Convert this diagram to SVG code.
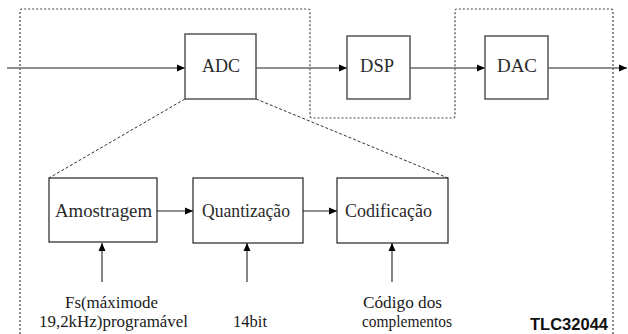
<svg xmlns="http://www.w3.org/2000/svg" width="628" height="334" viewBox="0 0 628 334">
  <style>
    .blk { fill: #ffffff; stroke: #555555; stroke-width: 1.5; }
    .sub { fill: #ffffff; stroke: #222222; stroke-width: 1.2; }
    text.lbl { font-family: "Liberation Serif", "DejaVu Serif", "Times New Roman", serif; font-size: 18px; fill: #2a2a2a; text-anchor: middle; }
    text.note { font-family: "Liberation Serif", "DejaVu Serif", "Times New Roman", serif; font-size: 17px; fill: #1a1a1a; text-anchor: middle; }
    text.chip { font-family: "Liberation Sans", "DejaVu Sans", Arial, sans-serif; font-size: 16px; font-weight: bold; fill: #111111; }
    .main { stroke: #6a6a6a; stroke-width: 1.7; fill: none; }
    .link { stroke: #222222; stroke-width: 1.1; fill: none; }
    .zoom { stroke: #333333; stroke-width: 1; stroke-dasharray: 3 2; fill: none; }
    .bound { stroke: #444444; stroke-width: 1.2; stroke-dasharray: 2 2; fill: none; }
  </style>
  <defs>
    <marker id="arrow" markerUnits="userSpaceOnUse" markerWidth="9" markerHeight="8" refX="8" refY="4" orient="auto">
      <path d="M0,0.5 L8,4 L0,7.5 Z" fill="#000000"/>
    </marker>
  </defs>

  <!-- chip boundaries -->
  <path class="bound" d="M20,334 V11 Q20,9 22,9 H308 Q310,9 310,11 V116 Q310,118 312,118 H453 Q455,118 455,116 V11 Q455,9 457,9 H611 Q613,9 613,11 V334"/>

  <g id="connectors">
    <line class="main" x1="7" y1="68" x2="185" y2="68" marker-end="url(#arrow)"/>
    <line class="main" x1="256" y1="68" x2="347" y2="68" marker-end="url(#arrow)"/>
    <line class="main" x1="410" y1="68" x2="485" y2="68" marker-end="url(#arrow)"/>
    <line class="main" x1="548" y1="68" x2="627" y2="68" marker-end="url(#arrow)"/>
    <line class="zoom" x1="185" y1="99" x2="49" y2="178"/>
    <line class="zoom" x1="256" y1="99" x2="448" y2="178"/>
    <line class="link" x1="157" y1="211" x2="193" y2="211" marker-end="url(#arrow)"/>
    <line class="link" x1="303" y1="211" x2="337" y2="211" marker-end="url(#arrow)"/>
    <line class="link" x1="102" y1="282" x2="102" y2="243" marker-end="url(#arrow)"/>
    <line class="link" x1="247" y1="282" x2="247" y2="243" marker-end="url(#arrow)"/>
    <line class="link" x1="392" y1="282" x2="392" y2="243" marker-end="url(#arrow)"/>
  </g>

  <g id="adc">
    <rect class="blk" x="185" y="34" width="71" height="65"/>
    <text class="lbl" x="221" y="72" textLength="38" lengthAdjust="spacingAndGlyphs">ADC</text>
  </g>
  <g id="dsp">
    <rect class="blk" x="347" y="36" width="63" height="63"/>
    <text class="lbl" x="377" y="72" textLength="34" lengthAdjust="spacingAndGlyphs">DSP</text>
  </g>
  <g id="dac">
    <rect class="blk" x="485" y="36" width="63" height="63"/>
    <text class="lbl" x="517" y="72" textLength="40" lengthAdjust="spacingAndGlyphs">DAC</text>
  </g>

  <g id="amostragem">
    <rect class="sub" x="49" y="178" width="108" height="64"/>
    <text class="lbl" x="103.5" y="217" textLength="97" lengthAdjust="spacingAndGlyphs">Amostragem</text>
  </g>
  <g id="quantizacao">
    <rect class="sub" x="193" y="178" width="110" height="65"/>
    <text class="lbl" x="246" y="217" textLength="88" lengthAdjust="spacingAndGlyphs">Quantização</text>
  </g>
  <g id="codificacao">
    <rect class="sub" x="337" y="178" width="111" height="65"/>
    <text class="lbl" x="388.5" y="217" textLength="87" lengthAdjust="spacingAndGlyphs">Codificação</text>
  </g>

  <g id="fs-note">
    <text class="note" x="111.5" y="308" textLength="93" lengthAdjust="spacingAndGlyphs">Fs(máximode</text>
    <text class="note" x="113.5" y="327" textLength="149" lengthAdjust="spacingAndGlyphs">19,2kHz)programável</text>
  </g>
  <g id="bits-note">
    <text class="note" x="250" y="327" textLength="34" lengthAdjust="spacingAndGlyphs">14bit</text>
  </g>
  <g id="code-note">
    <text class="note" x="402.5" y="308" textLength="79" lengthAdjust="spacingAndGlyphs">Código dos</text>
    <text class="note" x="407" y="327" textLength="90" lengthAdjust="spacingAndGlyphs">complementos</text>
  </g>
  <g id="chip-name">
    <text class="chip" x="569" y="330" text-anchor="middle" textLength="78" lengthAdjust="spacingAndGlyphs">TLC32044</text>
  </g>
</svg>
